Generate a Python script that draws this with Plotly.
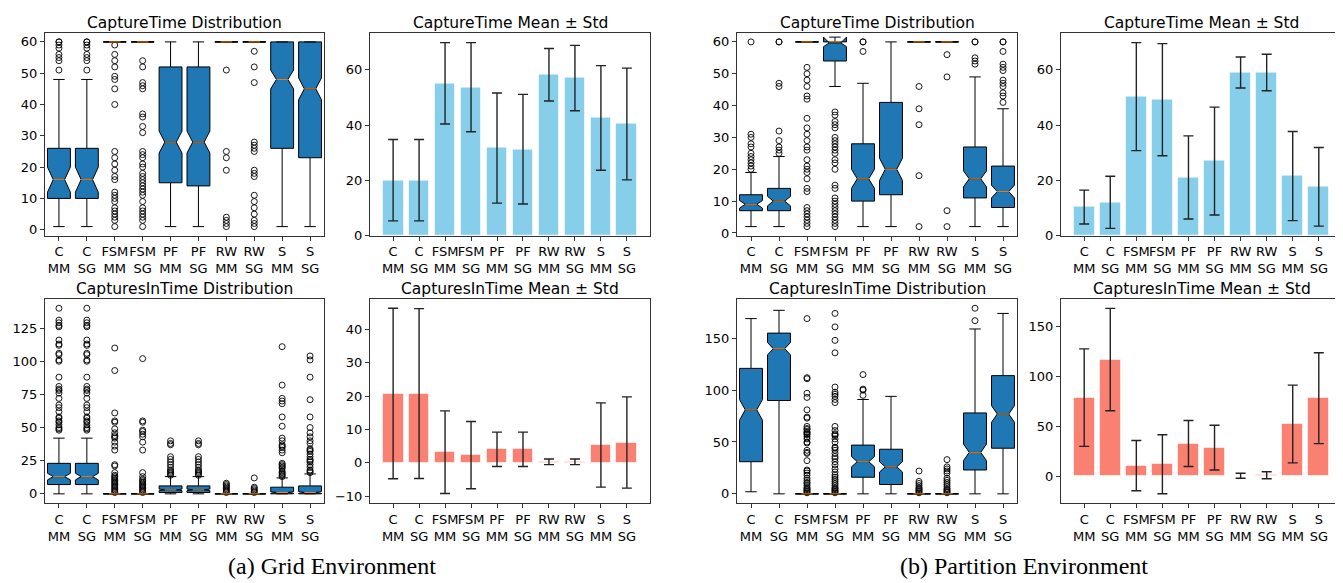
import plotly.graph_objects as go

# ---------------- data ----------------
methods = ["C", "C", "FSM", "FSM", "PF", "PF", "RW", "RW", "S", "S"]
variants = ["MM", "SG", "MM", "SG", "MM", "SG", "MM", "SG", "MM", "SG"]
tick_labels = [f"{m}<br>{v}" for m, v in zip(methods, variants)]

# Grid - CaptureTime box stats
grid_ct_q1 = [10, 10, 60, 60, 15, 14, 60, 60, 26, 23]
grid_ct_med = [16, 16, 60, 60, 28, 28, 60, 60, 48, 45]
grid_ct_q3 = [26, 26, 60, 60, 52, 52, 60, 60, 60, 60]
grid_ct_lo = [1, 1, 60, 60, 1, 1, 60, 60, 1, 1]
grid_ct_hi = [48, 48, 60, 60, 60, 60, 60, 60, 60, 60]
grid_ct_notch = [4, 4, 0, 0, 3.5, 3.5, 0, 0, 3, 3.5]
grid_ct_out = [
    [60, 60, 59, 58, 56, 55, 54, 51],
    [60, 60, 59, 58, 56, 55, 54, 51],
    [59, 56, 54, 52, 49, 48, 45, 40, 25, 23, 21, 19, 17, 16, 12, 11, 10, 9, 7, 6, 5, 4, 3, 1],
    [54, 52, 47, 46, 45, 37, 36, 33, 31, 25, 24, 23, 21, 20, 18, 17, 16, 15, 14, 13, 12, 11, 9, 7, 6, 5, 4, 3, 1],
    [],
    [],
    [51, 25, 23, 19, 4, 3, 2, 1],
    [57, 52, 47, 28, 27, 26, 25, 19, 18, 17, 11, 9, 7, 5, 3, 2, 1],
    [],
    [],
]
grid_ct_mean = [20.1, 20.1, 55.1, 53.7, 31.7, 31.3, 58.2, 57.0, 42.6, 40.4]
grid_ct_std = [14.7, 14.7, 14.7, 16.1, 19.9, 19.8, 9.5, 11.8, 18.9, 20.2]

# Grid - CapturesInTime box stats
grid_cit_q1 = [7, 7, 0, 0, 1, 1, 0, 0, 0, 0]
grid_cit_med = [13, 13, 0, 0, 3, 3, 0, 0, 1, 1]
grid_cit_q3 = [23, 23, 0, 0, 6, 6, 0, 0, 5, 6]
grid_cit_lo = [0, 0, 0, 0, 0, 0, 0, 0, 0, 0]
grid_cit_hi = [42, 42, 0, 0, 13, 13, 0, 0, 12, 15]
grid_cit_notch = [2.5, 2.5, 0, 0, 0.6, 0.6, 0, 0, 0.6, 0.7]
grid_cit_out = [
    [140, 131, 129, 127, 126, 116, 113, 112, 106, 105, 101, 100, 88, 81, 79, 78, 76, 72, 67, 65, 62, 58, 57, 55, 54, 52, 50, 49, 48],
    [140, 131, 129, 127, 126, 116, 113, 112, 106, 105, 101, 100, 88, 81, 79, 78, 76, 72, 67, 65, 62, 58, 57, 55, 54, 52, 50, 49, 48],
    [110, 93, 61, 55, 54, 49, 46, 44, 43, 42, 39, 36, 33, 22, 21, 16, 14, 13, 12, 11, 10, 9, 8, 7, 6, 5, 4, 3, 2, 1],
    [102, 55, 54, 48, 47, 45, 43, 39, 33, 16, 13, 11, 10, 9, 8, 7, 6, 5, 4, 3, 2, 1],
    [40, 38, 37, 28, 26, 24, 22, 20, 18, 17, 16, 15, 14],
    [40, 38, 37, 28, 26, 24, 22, 20, 18, 17, 16, 15, 14],
    [8, 7, 6, 5, 4, 3, 2, 1],
    [12, 5, 4, 3, 2, 1],
    [111, 82, 72, 70, 68, 58, 51, 42, 40, 37, 36, 35, 33, 31, 23, 22, 21, 20, 19, 17, 16, 15, 14, 13],
    [104, 101, 88, 71, 58, 50, 46, 43, 40, 38, 34, 33, 32, 30, 28, 26, 25, 24, 22, 20, 18, 17, 16],
]
grid_cit_mean = [20.8, 20.8, 3.2, 2.3, 4.05, 4.05, 0.3, 0.3, 5.35, 6.1]
grid_cit_std = [25.6, 25.5, 12.4, 10.1, 5.15, 5.15, 0.85, 0.85, 12.65, 13.7]

# Partition - CaptureTime box stats
part_ct_q1 = [7, 7, 60, 54, 10, 12, 60, 60, 11, 8]
part_ct_med = [9, 10, 60, 60, 17, 20, 60, 60, 17, 13]
part_ct_q3 = [12, 14, 60, 60, 28, 41, 60, 60, 27, 21]
part_ct_lo = [2, 2, 60, 46, 2, 2, 60, 60, 2, 2]
part_ct_hi = [19, 24, 60, 60, 47, 60, 60, 60, 49, 39]
part_ct_notch = [1.2, 1.5, 0, 1.5, 3, 3.5, 0, 0, 2.5, 2]
part_ct_out = [
    [60, 31, 30, 28, 27, 25, 24, 23, 22, 21, 20],
    [60, 60, 47, 46, 32, 29, 27, 26, 25],
    [52, 50, 48, 46, 43, 42, 36, 33, 31, 29, 27, 26, 23, 21, 20, 19, 17, 14, 13, 8, 7, 6, 5, 4, 3, 2],
    [38, 37, 35, 34, 33, 30, 29, 28, 27, 26, 25, 23, 22, 20, 15, 14, 11, 10, 9, 8, 7, 6, 5, 4, 3, 2],
    [60, 60, 57],
    [],
    [46, 39, 34, 18, 2],
    [56, 49, 7, 2],
    [60, 60, 55, 54, 53],
    [60, 60, 57, 53, 52, 51, 48, 47, 46, 44, 43, 41],
]
part_ct_mean = [10.4, 12.1, 50.3, 49.2, 21.1, 27.0, 59.0, 59.0, 21.6, 17.7]
part_ct_std = [6.1, 9.4, 19.5, 20.25, 15.0, 19.5, 5.6, 6.6, 16.1, 14.2]

# Partition - CapturesInTime box stats
part_cit_q1 = [31, 90, 0, 0, 16, 9, 0, 0, 23, 44]
part_cit_med = [81, 140, 0, 0, 31, 26, 0, 0, 40, 77]
part_cit_q3 = [121, 155, 0, 0, 47, 43, 0, 0, 78, 114]
part_cit_lo = [2, 0, 0, 0, 0, 0, 0, 0, 0, 0]
part_cit_hi = [169, 177, 0, 0, 91, 94, 0, 0, 159, 174]
part_cit_notch = [10, 6, 0, 0, 5, 5, 0, 0, 8, 8]
part_cit_out = [
    [],
    [],
    [169, 112, 111, 97, 93, 81, 74, 73, 65, 63, 62, 60, 59, 58, 57, 55, 53, 50, 49, 42, 40, 39, 32, 23, 22, 20, 18, 15, 13, 11, 10, 8, 6, 5, 4, 3, 2, 1],
    [174, 161, 148, 136, 103, 98, 96, 94, 91, 88, 65, 61, 58, 57, 56, 53, 50, 45, 44, 42, 39, 36, 34, 31, 28, 24, 21, 18, 16, 14, 12, 10, 8, 6, 5, 4, 3, 2, 1],
    [115, 101, 100, 95],
    [],
    [22, 12, 10, 8, 6, 5, 4, 3, 2, 1],
    [33, 26, 24, 22, 20, 15, 13, 11, 9, 7, 5, 4, 3, 2, 1],
    [179, 167],
    [],
]
part_cit_mean = [78.5, 116.6, 10.4, 11.8, 32.6, 28.4, 0.3, 0.8, 52.1, 78.0]
part_cit_std = [48.8, 51.3, 25.2, 29.6, 23.0, 22.4, 2.5, 3.5, 38.9, 45.5]

# ---------------- layout geometry (pixels) ----------------
W, H = 1343, 583
col_px = [(37, 316), (362, 642), (729, 1009), (1053, 1334)]
row_px = [(25, 231), (295, 502)]

BOX_POS = list(range(1, 11))
BAR_POS = list(range(0, 10))
BOX_W = 0.82
BAR_W = 0.8

FONT = "DejaVu Sans"
fig = go.Figure()
annotations = []


def xdom(c):
    return [col_px[c][0] / W, col_px[c][1] / W]


def ydom(r):
    return [1 - row_px[r][1] / H, 1 - row_px[r][0] / H]


axis_common = dict(
    showgrid=False, zeroline=False, showline=True, mirror=True,
    linecolor="#333333", linewidth=1, ticks="outside", ticklen=4,
    tickcolor="#333333", tickfont=dict(family=FONT, size=13, color="black"),
)

panels = [
    dict(r=0, c=0, kind="box", title="CaptureTime Distribution",
         q1=grid_ct_q1, med=grid_ct_med, q3=grid_ct_q3, lo=grid_ct_lo, hi=grid_ct_hi,
         notch=grid_ct_notch, out=grid_ct_out, yr=[-1.95, 62.95], t0=0, dt=10),
    dict(r=0, c=1, kind="bar", title="CaptureTime Mean ± Std",
         mean=grid_ct_mean, std=grid_ct_std, color="#87CEEB", yr=[0, 73.4], t0=0, dt=20),
    dict(r=1, c=0, kind="box", title="CapturesInTime Distribution",
         q1=grid_cit_q1, med=grid_cit_med, q3=grid_cit_q3, lo=grid_cit_lo, hi=grid_cit_hi,
         notch=grid_cit_notch, out=grid_cit_out, yr=[-7, 147], t0=0, dt=25),
    dict(r=1, c=1, kind="bar", title="CapturesInTime Mean ± Std",
         mean=grid_cit_mean, std=grid_cit_std, color="#FA8072", yr=[-12.1, 49.2], t0=-10, dt=10),
    dict(r=0, c=2, kind="box", title="CaptureTime Distribution",
         q1=part_ct_q1, med=part_ct_med, q3=part_ct_q3, lo=part_ct_lo, hi=part_ct_hi,
         notch=part_ct_notch, out=part_ct_out, yr=[-0.9, 62.9], t0=0, dt=10),
    dict(r=0, c=3, kind="bar", title="CaptureTime Mean ± Std",
         mean=part_ct_mean, std=part_ct_std, color="#87CEEB", yr=[0, 73.4], t0=0, dt=20),
    dict(r=1, c=2, kind="box", title="CapturesInTime Distribution",
         q1=part_cit_q1, med=part_cit_med, q3=part_cit_q3, lo=part_cit_lo, hi=part_cit_hi,
         notch=part_cit_notch, out=part_cit_out, yr=[-8.95, 187.95], t0=0, dt=50),
    dict(r=1, c=3, kind="bar", title="CapturesInTime Mean ± Std",
         mean=part_cit_mean, std=part_cit_std, color="#FA8072", yr=[-27.1, 177.3], t0=0, dt=50),
]

layout_axes = {}
for i, p in enumerate(panels):
    n = i + 1
    xa = "x" if n == 1 else f"x{n}"
    ya = "y" if n == 1 else f"y{n}"
    xkey = "xaxis" if n == 1 else f"xaxis{n}"
    ykey = "yaxis" if n == 1 else f"yaxis{n}"

    if p["kind"] == "box":
        fig.add_trace(go.Box(
            x=BOX_POS, q1=p["q1"], median=p["med"], q3=p["q3"],
            lowerfence=p["lo"], upperfence=p["hi"], notchspan=p["notch"],
            notched=True, notchwidth=0.25, width=BOX_W, whiskerwidth=0.5,
            boxpoints=False, fillcolor="#1f77b4",
            line=dict(color="black", width=1),
            xaxis=xa, yaxis=ya, showlegend=False,
        ))
        ox, oy = [], []
        for pos, vals in zip(BOX_POS, p["out"]):
            ox += [pos] * len(vals)
            oy += vals
        fig.add_trace(go.Scatter(
            x=ox, y=oy, mode="markers",
            marker=dict(symbol="circle-open", size=6, color="black", line=dict(width=0.9)),
            xaxis=xa, yaxis=ya, showlegend=False,
        ))
        mx, my = [], []
        for pos, m in zip(BOX_POS, p["med"]):
            mx += [pos - BOX_W * 0.25, pos + BOX_W * 0.25, None]
            my += [m, m, None]
        fig.add_trace(go.Scatter(
            x=mx, y=my, mode="lines", line=dict(color="#ff7f0e", width=1),
            xaxis=xa, yaxis=ya, showlegend=False,
        ))
        xpos, xr = BOX_POS, [0.5, 10.5]
    else:
        fig.add_trace(go.Bar(
            x=BAR_POS, y=p["mean"], width=BAR_W,
            marker=dict(color=p["color"], line=dict(color="rgba(255,255,255,0.6)", width=1)),
            error_y=dict(type="data", array=p["std"], visible=True,
                         color="#222222", thickness=1.4, width=5),
            xaxis=xa, yaxis=ya, showlegend=False,
        ))
        xpos, xr = BAR_POS, [-0.89, 9.89]

    layout_axes[xkey] = dict(axis_common, domain=xdom(p["c"]), anchor=ya, range=xr,
                             tickmode="array", tickvals=xpos, ticktext=tick_labels,
                             tickangle=0)
    layout_axes[ykey] = dict(axis_common, domain=ydom(p["r"]), anchor=xa, range=p["yr"],
                             tick0=p["t0"], dtick=p["dt"])

    title_y_px = 15 if p["r"] == 0 else 285
    annotations.append(dict(
        text=p["title"], xref="paper", yref="paper",
        x=(col_px[p["c"]][0] + col_px[p["c"]][1]) / 2 / W, y=1 - title_y_px / H,
        xanchor="center", yanchor="middle", showarrow=False,
        font=dict(family=FONT, size=15.5, color="black"),
    ))

annotations.append(dict(
    text="(a) Grid Environment", xref="paper", yref="paper",
    x=323.5 / W, y=1 - 566 / H, xanchor="center", yanchor="middle", showarrow=False,
    font=dict(family="Liberation Serif", size=24, color="black"),
))
annotations.append(dict(
    text="(b) Partition Environment", xref="paper", yref="paper",
    x=1015.5 / W, y=1 - 566 / H, xanchor="center", yanchor="middle", showarrow=False,
    font=dict(family="Liberation Serif", size=24, color="black"),
))

fig.update_layout(
    width=W, height=H, margin=dict(l=0, r=0, t=0, b=0),
    paper_bgcolor="white", plot_bgcolor="white",
    annotations=annotations, showlegend=False, bargap=0,
    **layout_axes,
)

fig.write_html("out.html")
